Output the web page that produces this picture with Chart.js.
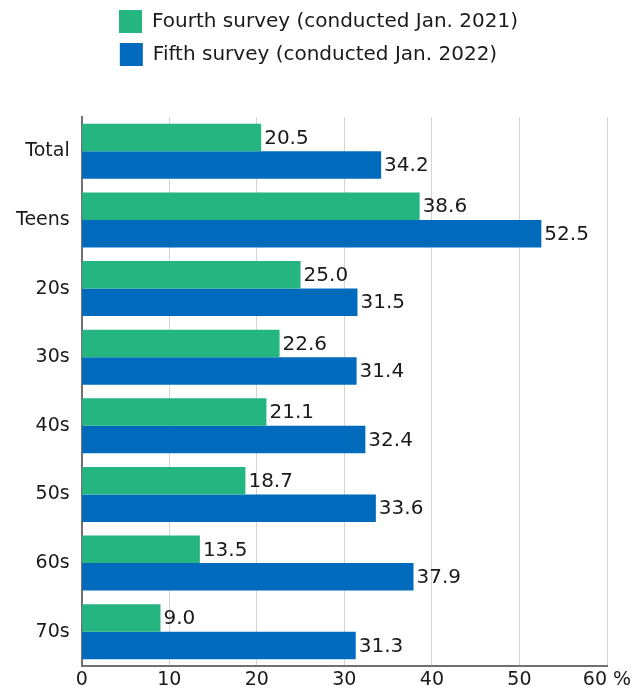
<!DOCTYPE html>
<html>
<head>
<meta charset="utf-8">
<script src="https://cdn.jsdelivr.net/npm/chart.js@4"></script>
<style>
  html, body { margin: 0; padding: 0; background: #fff; }
  #wrap { width: 633px; height: 690px; }
</style>
</head>
<body>
<div id="wrap"><canvas id="surveyChart"></canvas></div>
<script>
const categories = ['Total', 'Teens', '20s', '30s', '40s', '50s', '60s', '70s'];
const fourthSurvey = [20.5, 38.6, 25.0, 22.6, 21.1, 18.7, 13.5, 9.0];
const fifthSurvey = [34.2, 52.5, 31.5, 31.4, 32.4, 33.6, 37.9, 31.3];
const seriesNames = ['Fourth survey (conducted Jan. 2021)', 'Fifth survey (conducted Jan. 2022)\u2002\u2002'];
const xTicks = [0, 10, 20, 30, 40, 50, 60];

const fontFamily = "'DejaVu Sans', sans-serif";

// values printed at the end of each bar
const barValues = {
  id: 'barValues',
  afterDatasetsDraw(chart) {
    const ctx = chart.ctx;
    ctx.save();
    ctx.font = '20px ' + fontFamily;
    ctx.fillStyle = '#1a1a1a';
    ctx.textBaseline = 'middle';
    ctx.textAlign = 'left';
    chart.data.datasets.forEach((ds, i) => {
      chart.getDatasetMeta(i).data.forEach((bar, j) => {
        ctx.fillText(ds.data[j].toFixed(1), bar.x + 3, bar.y + 1);
      });
    });
    ctx.restore();
  }
};

// extra room under the legend
const legendGap = {
  id: 'legendGap',
  beforeInit(chart) {
    const fit = chart.legend.fit;
    chart.legend.fit = function () {
      fit.call(this);
      this.height += 41;
    };
  }
};

new Chart(document.getElementById('surveyChart'), {
  type: 'bar',
  data: {
    labels: categories,
    datasets: [{
      label: seriesNames[0],
      data: fourthSurvey,
      backgroundColor: '#25b580'
    }, {
      label: seriesNames[1],
      data: fifthSurvey,
      backgroundColor: '#006bbd'
    }]
  },
  options: {
    indexAxis: 'y',
    responsive: true,
    maintainAspectRatio: false,
    animation: false,
    categoryPercentage: 0.8,
    barPercentage: 1.0,
    layout: {
      padding: { top: 0, right: 0, left: 4, bottom: 0 }
    },
    plugins: {
      legend: {
        position: 'top',
        labels: {
          boxWidth: 23,
          boxHeight: 23,
          padding: 10,
          color: '#1a1a1a',
          font: { size: 20, family: fontFamily }
        }
      },
      tooltip: { enabled: false }
    },
    scales: {
      x: {
        min: 0,
        max: 60,
        afterBuildTicks(axis) {
          axis.ticks = xTicks.map(v => ({ value: v }));
        },
        afterFit(axis) {
          axis.paddingRight = 26;
          axis.height = 24;
        },
        grid: {
          color: '#d4d4d4',
          drawTicks: false
        },
        border: { color: '#707070', width: 2 },
        ticks: {
          padding: 3,
          color: '#1a1a1a',
          font: { size: 19, family: fontFamily },
          callback: v => v === 60 ? '60 %' : String(v),
          maxRotation: 0
        }
      },
      y: {
        grid: { display: false, drawTicks: false },
        border: { color: '#707070', width: 2 },
        ticks: {
          padding: 12,
          color: '#1a1a1a',
          font: { size: 19, family: fontFamily }
        }
      }
    }
  },
  plugins: [barValues, legendGap]
});
</script>
</body>
</html>
